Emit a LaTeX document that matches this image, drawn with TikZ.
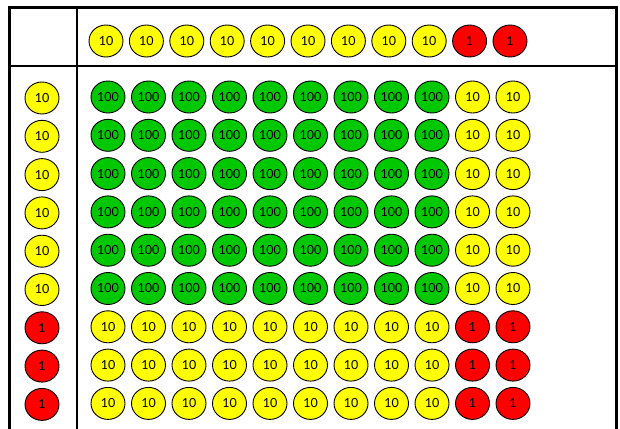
\documentclass[tikz,border=0pt]{standalone}
\usepackage{fontspec}
\setmainfont{Lato}
\usepackage{tikz}
\usetikzlibrary{shapes.geometric, positioning}
\definecolor{chipyellow}{HTML}{FFFF00}
\definecolor{chipgreen}{HTML}{00C800}
\definecolor{chipred}{HTML}{FF0000}
\tikzset{
	chip/.style={ellipse, draw=black, line width=0.9pt, minimum width=34pt, minimum height=32pt, inner sep=0pt, font=\fontsize{12.5}{12.5}\selectfont}
}
\tikzset{
	ten/.style={chip, fill=chipyellow},
	hundred/.style={chip, fill=chipgreen},
	one/.style={chip, fill=chipred}
}

\begin{document}
\begin{tikzpicture}[x=1pt, y=-1pt, line width=2.4pt]
      \useasboundingbox (0,0) rectangle (620,428);
      % table lines
      \draw (9.5,440) -- (9.5,7.5) -- (616.5,7.5) -- (616.5,440);
      \draw (77,7.5) -- (77,440);
      \draw (9.5,66) -- (616.5,66);
      % top row
      \foreach \c in {1,...,9} {
        \node[ten] (top-\c) at ({106+40.4*(\c-1)},41) {10};
      }
      \foreach \c in {10,11} {
        \node[one] (top-\c) at ({106+40.4*(\c-1)},41) {1};
      }
      % left column
      \foreach \r in {1,...,6} {
        \node[ten] (left-\r) at (42,{98+38.3*(\r-1)}) {10};
      }
      \foreach \r in {7,8,9} {
        \node[one] (left-\r) at (42,{98+38.3*(\r-1)}) {1};
      }
      % products
      \foreach \r in {1,...,6} {
        \foreach \c in {1,...,9} {
          \node[hundred] (cell-\r-\c) at ({108+40.5*(\c-1)},{97+38.3*(\r-1)}) {100};
        }
        \foreach \c in {10,11} {
          \node[ten] (cell-\r-\c) at ({108+40.5*(\c-1)},{97+38.3*(\r-1)}) {10};
        }
      }
      \foreach \r in {7,8,9} {
        \foreach \c in {1,...,9} {
          \node[ten] (cell-\r-\c) at ({108+40.5*(\c-1)},{97+38.3*(\r-1)}) {10};
        }
        \foreach \c in {10,11} {
          \node[one] (cell-\r-\c) at ({108+40.5*(\c-1)},{97+38.3*(\r-1)}) {1};
        }
      }
    \end{tikzpicture}
\end{document}
